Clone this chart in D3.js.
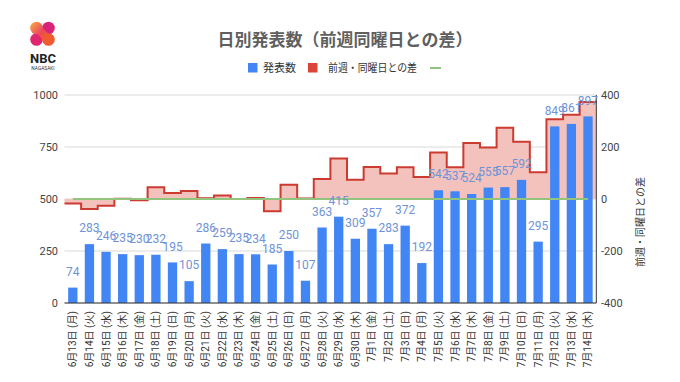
<!DOCTYPE html>
<html><head><meta charset="utf-8">
<script src="https://cdn.jsdelivr.net/npm/d3@7"></script>
<style>
html,body{margin:0;padding:0;background:#fff;}
svg{display:block;}
text{font-family:Roboto,"Noto Sans CJK JP",sans-serif;}
</style></head>
<body>
<script>
const categories = ["6月13日 (月)","6月14日 (火)","6月15日 (水)","6月16日 (木)","6月17日 (金)","6月18日 (土)","6月19日 (日)","6月20日 (月)","6月21日 (火)","6月22日 (水)","6月23日 (木)","6月24日 (金)","6月25日 (土)","6月26日 (日)","6月27日 (月)","6月28日 (火)","6月29日 (水)","6月30日 (木)","7月1日 (金)","7月2日 (土)","7月3日 (日)","7月4日 (月)","7月5日 (火)","7月6日 (水)","7月7日 (木)","7月8日 (金)","7月9日 (土)","7月10日 (日)","7月11日 (月)","7月12日 (火)","7月13日 (水)","7月14日 (木)"];
const counts = [74,283,246,235,230,232,195,105,286,259,235,234,185,250,107,363,415,309,357,283,372,192,542,537,524,555,557,592,295,849,861,897];
const diffs = [-17,-38,-26,1,-5,45,23,31,3,13,0,4,-47,55,2,77,156,74,123,98,122,85,179,122,215,198,274,220,103,307,324,373];
const zeroLine = [0,0,0,0,0,0,0,0,0,0,0,0,0,0,0,0,0,0,0,0,0,0,0,0,0,0,0,0,0,0,0,0];
const leftTicks = [0,250,500,750,1000];
const rightTicks = [-400,-200,0,200,400];
const title = "日別発表数（前週同曜日との差）";
const seriesNames = ["発表数","前週・同曜日との差",""];
const rightTitle = "前週・同曜日との差";

const W=680,H=382;
const svg=d3.select("body").append("svg").attr("width",W).attr("height",H);

const x=d3.scaleBand().domain(categories).range([64.5,596.3]).paddingInner(0.44).paddingOuter(0.22);
const yL=d3.scaleLinear().domain([0,1000]).range([303,95]);
const yR=d3.scaleLinear().domain([-400,400]).range([303,95]);
const step=x.step();
const x0=i=>x.range()[0]+i*step;
const xc=c=>x(c)+x.bandwidth()/2;

// logo
const defs=svg.append("defs");
const g1=defs.append("linearGradient").attr("id","lg1").attr("x1","0").attr("y1","0").attr("x2","1").attr("y2","1");
g1.append("stop").attr("offset","0").attr("stop-color","#fbb03b");
g1.append("stop").attr("offset","1").attr("stop-color","#e8336d");
const g2=defs.append("linearGradient").attr("id","lg2").attr("x1","0").attr("y1","0").attr("x2","1").attr("y2","1");
g2.append("stop").attr("offset","0").attr("stop-color","#e6326e");
g2.append("stop").attr("offset","1").attr("stop-color","#f26a2b");
const logo=svg.append("g");
logo.append("circle").attr("cx",48.5).attr("cy",28).attr("r",6.3).attr("fill","#d9237a");
logo.append("circle").attr("cx",36.5).attr("cy",39.5).attr("r",6.3).attr("fill","#e0266f");
logo.append("path").attr("d","M31,27 L42,27 L54,40 L43,40 Z").attr("fill","url(#lg2)");
logo.append("circle").attr("cx",36.5).attr("cy",28).attr("r",6.3).attr("fill","url(#lg1)");
logo.append("circle").attr("cx",48.5).attr("cy",39.5).attr("r",6.3).attr("fill","#ef5a2e");
logo.append("text").attr("x",43).attr("y",63).attr("text-anchor","middle").attr("font-size",13).attr("font-weight","bold").attr("fill","#222").attr("font-family","Roboto").text("NBC");
logo.append("text").attr("x",43).attr("y",70).attr("text-anchor","middle").attr("font-size",4.8).attr("fill","#333").attr("font-family","Roboto").text("NAGASAKI");

// title
svg.append("text").attr("x",345).attr("y",46).attr("text-anchor","middle").attr("font-size",17).attr("font-weight","bold").attr("fill","#5f5f5f").text(title);

// legend
const lg=svg.append("g");
lg.append("rect").attr("x",248).attr("y",63).attr("width",9.5).attr("height",9.5).attr("fill","#4285f4");
lg.append("text").attr("x",263).attr("y",72).attr("font-size",11).attr("fill","#333").text(seriesNames[0]);
lg.append("rect").attr("x",308).attr("y",63).attr("width",9.5).attr("height",9.5).attr("fill","#db4437");
lg.append("text").attr("x",328).attr("y",72).attr("font-size",11).attr("fill","#333")
  .attr("textLength",89).attr("lengthAdjust","spacingAndGlyphs").text(seriesNames[1]);
lg.append("line").attr("x1",430).attr("x2",441).attr("y1",68).attr("y2",68).attr("stroke","#93c47d").attr("stroke-width",2);

// gridlines
svg.append("g").selectAll("line").data(leftTicks).join("line")
  .attr("x1",64.5).attr("x2",596.3).attr("y1",d=>yL(d)).attr("y2",d=>yL(d))
  .attr("stroke","#d9d9d9").attr("stroke-width",1);

// left axis labels
svg.append("g").selectAll("text").data(leftTicks).join("text")
  .attr("x",58).attr("y",d=>yL(d)).attr("dy","0.35em").attr("text-anchor","end")
  .attr("font-size",11).attr("fill","#444").text(d=>d);

// right axis labels
svg.append("g").selectAll("text").data(rightTicks).join("text")
  .attr("x",601).attr("y",d=>yR(d)).attr("dy","0.35em").attr("text-anchor","start")
  .attr("font-size",11).attr("fill","#444").text(d=>d);
svg.append("text").attr("transform","translate(644,222) rotate(-90)").attr("text-anchor","middle")
  .attr("font-size",10).attr("fill","#333").text(rightTitle);

// area
const pts=diffs.map((d,i)=>[x0(i),d]).concat([[x.range()[1],diffs[diffs.length-1]]]);
svg.append("path").datum(pts)
  .attr("d",d3.area().x(d=>d[0]).y0(yR(0)).y1(d=>yR(d[1])).curve(d3.curveStepAfter))
  .attr("fill","#f4c2bd");

// bars
svg.append("g").selectAll("rect").data(counts).join("rect")
  .attr("x",(d,i)=>x(categories[i])).attr("width",x.bandwidth())
  .attr("y",d=>yL(d)).attr("height",d=>yL(0)-yL(d)).attr("fill","#4285f4");

// step line
svg.append("path").datum(pts)
  .attr("d",d3.line().x(d=>d[0]).y(d=>yR(d[1])).curve(d3.curveStepAfter))
  .attr("fill","none").attr("stroke","#cc3b30").attr("stroke-width",2);

// zero line
svg.append("path").datum(zeroLine)
  .attr("d",d3.line().x((d,i)=>xc(categories[i])).y(d=>yR(d)))
  .attr("fill","none").attr("stroke","#93c47d").attr("stroke-width",2);

// axes lines
svg.append("line").attr("x1",64.5).attr("x2",596.3).attr("y1",yL(0)).attr("y2",yL(0)).attr("stroke","#333");
svg.append("line").attr("x1",596.3).attr("x2",596.3).attr("y1",95).attr("y2",303).attr("stroke","#333");

// bar labels
svg.append("g").selectAll("text").data(counts).join("text")
  .attr("x",(d,i)=>xc(categories[i])).attr("y",d=>yL(d)-16).attr("dy","0.35em")
  .attr("text-anchor","middle").attr("font-size",12).attr("fill","#6f93d8").text(d=>d);

// x labels
svg.append("g").selectAll("text").data(categories).join("text")
  .attr("transform",d=>`translate(${xc(d)},311) rotate(-90)`).attr("dy","0.35em")
  .attr("text-anchor","end").attr("font-size",10).attr("fill","#333").text(d=>d);
</script>
</body></html>
